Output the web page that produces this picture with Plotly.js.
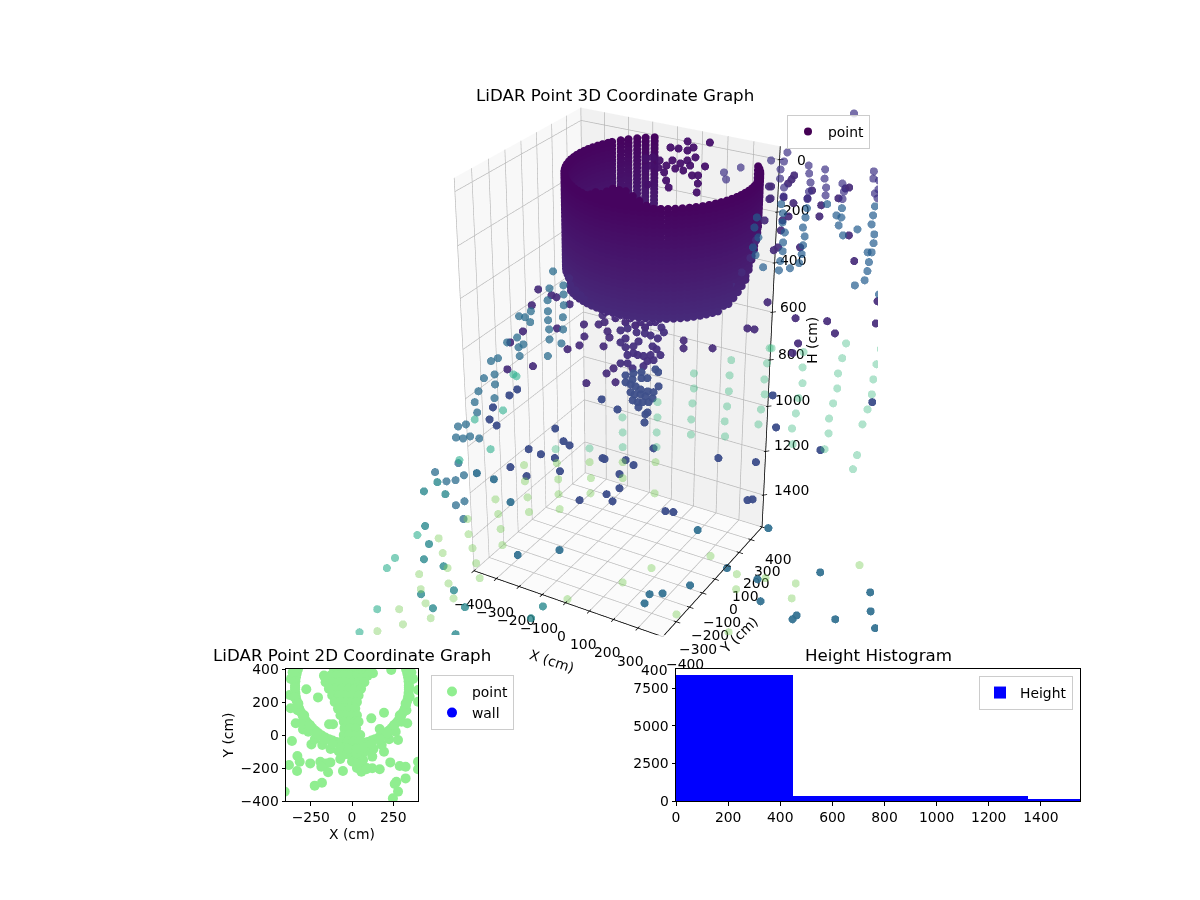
<!DOCTYPE html>
<html><head><meta charset="utf-8">
<script src="https://cdn.plot.ly/plotly-3.0.1.min.js"></script>
<style>
html,body{margin:0;padding:0;background:#fff;width:1200px;height:900px;overflow:hidden}
#axes3d{position:absolute;left:-65px;top:-319px;width:1372px;height:1372px;z-index:1}
#clip{position:absolute;left:352px;top:105px;width:526px;height:530px;overflow:hidden;z-index:2}
#points3d{position:absolute;left:-417px;top:-424px;width:1372px;height:1372px}
#flat{position:absolute;left:0;top:0;width:1200px;height:900px;z-index:3;pointer-events:none}
</style></head><body>
<div id="axes3d"></div>
<div id="clip"><div id="points3d"></div></div>
<div id="flat"></div>
<script>
const xTicks=[-400,-300,-200,-100,0,100,200,300,400];
const yTicks=[-400,-300,-200,-100,0,100,200,300,400];
const hTicks=[0,200,400,600,800,1000,1200,1400];
const ringX=[-190,-217,-241,-264,-283,-302,-310,-320,-328,-335,-340,-343,-345,-345,-343,-340,-335,-328,-320,-310,-299,-286,-272,-256,-240,-222,-203,-183,-162,-140,-118,-95,-72,-48,-24,0,24,48,72,95,118,140,162,183,203,222,240,256,272,286,299,310,320,328,335,340,343,345,345,343,340,335,328,320,310,299,286,272];
const ringY=[578,558,537,512,488,457,441,419,397,373,350,326,302,278,254,230,207,183,161,139,118,97,77,59,42,26,11,-3,-15,-25,-34,-42,-47,-52,-54,-55,-54,-52,-47,-42,-34,-25,-15,-3,11,26,42,59,77,97,118,139,161,183,207,230,254,278,302,326,350,373,397,419,441,462,483,502];
const ringTop=[85,85,85,85,85,85,85,85,85,85,85,85,85,85,85,85,85,85,85,85,85,85,85,85,85,85,85,85,85,85,80,70,60,55,45,30,17,25,40,50,65,80,85,85,85,85,85,85,85,85,85,85,85,85,85,85,85,85,85,85,85,85,85,85,85,85,85,85];
const ringFloor=[470,470,470,470,470,470,470,470,470,470,470,470,470,470,470,470,470,470,470,470,470,470,470,470,470,505,505,505,505,505,505,505,505,505,505,505,505,505,505,505,505,505,505,505,505,505,505,505,505,505,505,505,500,490,480,470,455,430,400,370,340,315,295,280,265,255,250,250];
const ringH=[15,30,45,60,75,85,100,115,130,145,160,175,190,205,220,235,250,265,280,295,310,325,340,355,370,385,400,415,430,445,460,475,490,505];
const wallBearingDeg=30;
const bowlAlong=[-177,-142,-107,-72,-37,-2,33,68,103,138,173,208,243,278,313,348,383,418,447,464,-181,-160,-125,-90,-55,-20,15,50,85,120,155,243,331];
const bowlH=[419,458,478,498,518,538,550,566,566,550,526,510,498,490,470,439,411,368,312,244,391,439,478,498,526,550,566,579,587,566,550,518,466];
const slateTopAlong=[770,556,503,546,536,536,551,551,630,633,639,636,632,686,686,693,693,747,754,751,850,850,870,870,859,870,346,354,402];
const slateTopH=[-224,-84,-55,-51,-22,12,45,78,-36,-7,26,60,88,-22,12,45,74,30,60,88,-15,12,19,52,67,85,-11,15,-29];
const slateLowAlong=[544,551,551,561,557,557,550,547,585,632,629,622,630,626,623,616,700,751,734,751,744,761,809,863,859,856,868,868,850,864,857,854,847,814,908,901,463,456,471,454,464,492];
const slateLowH=[107,141,176,214,252,286,324,360,352,122,157,195,229,263,297,332,107,122,149,157,187,225,202,115,149,183,221,255,290,290,328,363,399,419,415,455,157,195,233,271,301,348];
const slateLeftAlong=[-236,-250,-201,-201,-257,-201,-317,-257,-359,-338,-320,-257,-205,-254,-205,-368,-404,-254,-212,-347,-364,-361,-261,-439,-464,-453,-492,-453,-514,-457,-529,-522,-565,-594,-604,-578,-552,-519,-600,-688,-582,-648,-614,-585,-618,-592];
const slateLeftH=[364,431,419,455,478,498,522,522,542,546,566,558,546,595,595,628,648,636,652,656,668,704,704,713,725,780,796,822,851,880,897,941,992,1001,1049,1053,1044,1053,1161,1201,1215,1242,1237,1332,1350,1413];
const tealAlong=[-682,-734,-655,-738,-728,-751,-678,-644,-771,-729,-605,-647,-350,-303];
const tealH=[1246,1287,1300,1445,1529,1600,1633,1748,1767,1835,1830,1963,1884,1826];
const seaAlong=[-479,-596,-428,-386,-375,-532,-770,-861,-895,-945,-1022];
const seaH=[1100,1148,932,780,788,971,1487,1594,1642,1840,1953];
const blueAlong=[762,960,968,682,667,833,991,405,265,523,539,160,110,91,-234,-393,289,555,-534,-472,-413];
const blueH=[1662,1758,1850,1870,1889,1889,1933,1642,1724,1695,1801,1763,1767,1811,1557,1580,1464,1455,1206,1233,1336];
const indigoAlong=[547,908,565,732,119,-339,-211,-189,-295,-244,-409,-226,-350,-68,-61,17,-6,-6,-54,-155,-32,46,358,497,472,491,166,196,-403,-464,-478,-453,-374,-240,-70,-13];
const indigoH=[868,897,1005,1104,1096,1100,1065,1083,1122,1139,1179,1197,1219,1139,1143,1148,1210,1273,1300,1327,1332,1170,1139,1157,1327,1323,1377,1381,868,919,971,997,843,1010,885,928];
const purpleAlong=[-289,-243,-226,-313,-180,-131,-226,-347,-130,-393,-148,-190,-62,-79,-58,-65,-48,-41,-315,-52,-27,-20,-125,-407,513,446,471,222,222,325,303,282,236,201,159,313,327,583,575,564,507,646,758,771,507,551,632,737,585,680,571,676,551,547,781,540,616,806,898,614,726,898,756,628,610,500,503,490,526];
const purpleH=[435,458,466,498,494,575,591,603,624,648,660,676,664,575,566,538,603,628,746,776,755,813,817,759,486,591,595,640,672,672,514,530,526,530,550,474,466,0,15,30,41,56,48,45,85,81,85,85,103,111,153,153,168,206,225,271,271,324,482,550,562,571,611,652,692,41,88,168,282];
const darkAlong=[165,222,296,242,192,222,249,282,239,259,152,90,161,259,256,82,105,129,99,125,152,172,199,222,182,209,145,82,232];
const darkH=[-102,-124,-120,-102,-98,-91,-66,-33,0,0,19,34,45,30,63,-62,-66,-55,-36,-29,-36,-55,-44,-55,-25,-18,-11,-25,-36];
const funnelUpAlong=[142,151,55,23,-2,84,105,130,16,62,-2,44,16,112,126,140,44,59,80,105,116,94,23,23,-2,41,80];
const funnelUpH=[587,607,607,591,599,611,620,632,632,644,648,664,668,664,676,700,692,700,704,700,721,725,700,734,734,755,746];
const funnelLowAlong=[73,123,133,16,44,41,94,73,16,34,135,117,96,70,52,34,49,70,88,114,42,60,78,99,63,96,88,85];
const funnelLowH=[771,759,771,784,776,801,796,796,813,822,830,855,851,843,830,855,864,864,872,881,889,897,897,897,919,941,949,984];
const mintAlong=[798,788,649,923,912,649,535,777,905,652,778,904,641,767,893,634,756,879,623,758,629,747,868,857,393,261,389,521,528,514,388,262,518,384,258,507,132,377,255,500,132,5,380,255,130,6,130,6,-240,-116];
const mintH=[652,713,688,676,738,751,672,776,801,817,839,864,880,902,928,945,967,992,1010,1031,1078,1100,1126,1188,721,776,784,734,672,801,851,839,864,915,902,928,897,979,971,992,962,962,1044,1036,1027,1027,1091,1091,1100,1096];
const limeAlong=[-358,-237,-116,6,-357,-233,-112,6,-469,-349,-233,-114,-461,-345,-230,-454,-450,6,-207,127,125,340,116,443,553,443,215,420,910,671,659,-576,-690,-564,-678,-553,-773,-663,-542,-663,-771,-647,-756,-860,-740,-850,-952,-577];
const limeH=[1170,1161,1157,1157,1242,1233,1228,1228,1323,1314,1300,1296,1390,1381,1368,1459,1534,1710,1791,1157,1296,1585,1642,1671,1690,1743,1865,1953,1628,1715,1787,1483,1502,1548,1571,1619,1671,1642,1690,1715,1743,1787,1811,1840,1884,1914,1948,1413];
const plan2dX=[-110,-70,-30,10,50,90,-170,-130,-90,-50,-10,30,70,95,-160,-120,-80,-40,0,40,75,-140,-100,-60,-20,20,55,-120,-80,-40,0,40,-105,-70,-35,0,30,-85,-50,-15,20,-70,-35,0,30,-50,-15,20,40,-45,-10,25,-50,-15,20,50,-60,-25,10,45,-30,0,30,70,-50,-10,25,60,0,30,60,30,60,90,
-277,-206,-372,-378,-139,-115,-341,-297,-364,-246,-331,-317,-382,-333,-253,-192,-156,-186,-131,-145,-71,-55,-226,-182,-408,117,194,127,168,335,279,194,238,232,289,325,325,269,259,279,248,168,123,57,87,400,400,400,400,-166,123,67,26,
-370,-350,-330,-300,-265,-225,-180,-130,-80,-30,30,80,130,180,225,265,300,330,350,370,
-360,-345,-325,-290,-255,-215,-170,-120,-70,-20,30,75,120,170,215,255,290,325,345,360];
const plan2dY=[400,400,400,400,400,400,360,360,360,360,360,360,360,360,320,320,320,320,320,320,320,280,280,280,280,280,280,240,240,240,240,240,200,200,200,200,200,160,160,160,160,120,120,120,120,80,80,80,80,40,40,40,0,0,0,0,-40,-40,-40,-40,-80,-80,-80,-80,-120,-120,-120,-120,-160,-160,-160,-200,-200,-200,
277,228,162,242,65,65,71,34,-36,-57,-127,-162,-182,-218,-172,-162,-172,-192,-166,-226,-145,-218,-307,-289,-343,101,135,374,36,71,-30,-101,394,-166,-188,-192,-263,-283,-297,-343,-384,-208,-202,-222,-208,273,202,-162,-208,354,-131,-152,-172,
340,230,150,80,20,-25,-60,-85,-100,-110,-110,-100,-85,-60,-25,20,80,150,230,340,
380,290,190,120,60,10,-25,-55,-75,-85,-85,-75,-55,-25,10,60,120,190,290,380];
const wallPlanX=[5000], wallPlanY=[5000];
const binEdges=[0,450,1350,1550];
const binCounts=[8388,333,133];

const dotSize=4.7;
const bearing=wallBearingDeg*Math.PI/180;
function wallTrace(along,h,color,op){
  return {type:'scatter3d',mode:'markers',showlegend:false,hoverinfo:'skip',
    x:along.map(a=>a*Math.cos(bearing)),y:along.map(a=>a*Math.sin(bearing)),z:h,
    marker:{size:dotSize,color:color,opacity:op,line:{width:0}}};
}
const rx=[],ry=[],rz=[];
ringH.forEach(h=>{ringX.forEach((x,i)=>{ if(h>=ringTop[i]&&h<=ringFloor[i]){rx.push(x);ry.push(ringY[i]);rz.push(h);} });});
const ringTrace={type:'scatter3d',mode:'markers',showlegend:false,hoverinfo:'skip',x:rx,y:ry,z:rz,
  marker:{size:dotSize,color:rz,cmin:85,cmax:505,colorscale:[[0,'#46045f'],[1,'#472a7a']],showscale:false,line:{width:0}}};

// black axis edges (one polyline per axis through its ticks) and tick marks
function lineTrace(x,y,z){return {type:'scatter3d',mode:'lines',showlegend:false,hoverinfo:'skip',x:x,y:y,z:z,line:{color:'#000000',width:1.5}};}
const xEdge=lineTrace(xTicks,xTicks.map(()=>-400),xTicks.map(()=>1550));
const yEdge=lineTrace(yTicks.map(()=>400),yTicks,yTicks.map(()=>1550));
const hEdgeLevels=[-50].concat(hTicks,[1550]);
const hEdge=lineTrace(hEdgeLevels.map(()=>400),hEdgeLevels.map(()=>400),hEdgeLevels);
const tickX=[],tickY=[],tickZ=[];
xTicks.forEach(t=>{tickX.push(t,t,null);tickY.push(-416,-390,null);tickZ.push(1550,1550,null);});
yTicks.forEach(t=>{tickX.push(416,390,null);tickY.push(t,t,null);tickZ.push(1550,1550,null);});
hTicks.forEach(t=>{tickX.push(410,395,null);tickY.push(410,395,null);tickZ.push(t,t,null);});
const tickTrace=lineTrace(tickX,tickY,tickZ);

const pointTraces=[tickTrace,xEdge,yEdge,hEdge,ringTrace,
  wallTrace(darkAlong,darkH,'#45106a',0.95),
  wallTrace(bowlAlong,bowlH,'#46297a',0.97),
  wallTrace(purpleAlong,purpleH,'#472c7a',0.92),
  wallTrace(funnelUpAlong,funnelUpH,'#46307e',0.95),
  wallTrace(funnelLowAlong,funnelLowH,'#3e4f8a',0.95),
  wallTrace(indigoAlong,indigoH,'#3f4f8b',0.97),
  wallTrace(blueAlong,blueH,'#2f6f8f',0.92),
  wallTrace(tealAlong,tealH,'#2a8a8e',0.8),
  wallTrace(slateLeftAlong,slateLeftH,'#2a6c8e',0.75),
  wallTrace(slateTopAlong,slateTopH,'#3e3085',0.7),
  wallTrace(slateLowAlong,slateLowH,'#225b8d',0.7),
  wallTrace(seaAlong,seaH,'#2fb08f',0.6),
  wallTrace(mintAlong,mintH,'#43bd85',0.42),
  wallTrace(limeAlong,limeH,'#7acc59',0.42)];

const eyeDist=7.4, zAspect=1.95;
const dir={x:0.4415,y:-0.7646,z:0.4695};
function eye(k){return {x:dir.x*eyeDist*k,y:dir.y*eyeDist*k,z:dir.z*eyeDist*k};}
const tickFont={family:'DejaVu Sans',size:13.9,color:'#000'};
const anns=[];
const base={showarrow:false,xanchor:'center',yanchor:'middle',font:tickFont};
const hShiftX=[22,19,19,21,21,25,26,28], hShiftY=[0,2,3,5,6,6,6,5];
xTicks.forEach((t,i)=>anns.push(Object.assign({x:t,y:-400,z:1550,text:String(t).replace('-','\u2212'),xshift:-1-7*i/8,yshift:-33},base)));
yTicks.forEach((t,i)=>anns.push(Object.assign({x:400,y:t,z:1550,text:String(t).replace('-','\u2212'),xshift:22-6*i/8,yshift:-27-5*i/8},base)));
hTicks.forEach((t,i)=>anns.push(Object.assign({x:400,y:400,z:t,text:String(t),xshift:hShiftX[i],yshift:hShiftY[i]},base)));
anns.push(Object.assign({x:0,y:-400,z:1550,text:'X (cm)',textangle:18,xshift:-14,yshift:-58},base));
anns.push(Object.assign({x:400,y:0,z:1550,text:'Y (cm)',textangle:-44,xshift:24,yshift:-56},base));
anns.push(Object.assign({x:400,y:400,z:750,text:'H (cm)',textangle:-90,xshift:42,yshift:8},base));
function ax(range,dtick,bg){return {range:range,dtick:dtick,title:{text:''},showticklabels:false,ticks:'',
  showgrid:true,gridcolor:'#b8b8b8',gridwidth:1.5,zeroline:false,showline:false,showbackground:true,backgroundcolor:bg,showspikes:false};}
const axesLayout={width:1372,height:1372,margin:{l:0,r:0,t:0,b:0},paper_bgcolor:'rgba(0,0,0,0)',showlegend:false,
  scene:{domain:{x:[0,1],y:[0,1]},aspectmode:'manual',aspectratio:{x:1,y:1,z:zAspect},
    camera:{eye:eye(1),center:{x:0,y:0,z:0},up:{x:0,y:0,z:1}},
    xaxis:ax([-400,400],100,'#f8f8f8'),yaxis:ax([-400,400],100,'#f1f1f1'),zaxis:ax([1550,-50],200,'#fbfbfb'),annotations:anns}};
const axesTrace=[{type:'scatter3d',mode:'markers',x:[0],y:[0],z:[750],marker:{size:1,opacity:0},hoverinfo:'skip'}];
const hide={visible:false,showgrid:false,showbackground:false,zeroline:false,showticklabels:false,showline:false,title:{text:''}};
const pointsLayout={width:1372,height:1372,margin:{l:0,r:0,t:0,b:0},paper_bgcolor:'rgba(0,0,0,0)',showlegend:false,
  scene:{domain:{x:[0,1],y:[0,1]},aspectmode:'manual',aspectratio:{x:1,y:1,z:zAspect},bgcolor:'rgba(0,0,0,0)',
    camera:{eye:eye(0.25),center:{x:0,y:0,z:0},up:{x:0,y:0,z:1}},
    xaxis:Object.assign({range:[-1600,1600]},hide),yaxis:Object.assign({range:[-1600,1600]},hide),zaxis:Object.assign({range:[3950,-2450]},hide)}};
Plotly.newPlot('axes3d',axesTrace,axesLayout,{displayModeBar:false});
Plotly.newPlot('points3d',pointTraces,pointsLayout,{displayModeBar:false});

const mids=binCounts.map((c,i)=>(binEdges[i]+binEdges[i+1])/2);
const widths=binCounts.map((c,i)=>binEdges[i+1]-binEdges[i]);
const flatTraces=[
 {type:'scatter',mode:'markers',name:'point',x:ringX.concat(plan2dX),y:ringY.concat(plan2dY),marker:{color:'#90ee90',size:10},xaxis:'x',yaxis:'y',legend:'legend'},
 {type:'scatter',mode:'markers',name:'wall',x:wallPlanX,y:wallPlanY,marker:{color:'#0000ff',size:10},xaxis:'x',yaxis:'y',legend:'legend'},
 {type:'bar',name:'Height',x:mids,y:binCounts,width:widths,marker:{color:'#0000ff',line:{width:0}},xaxis:'x2',yaxis:'y2',legend:'legend2'},
 {type:'scatter',mode:'markers',name:'point',x:wallPlanX,y:wallPlanY,marker:{color:'#440154',size:8},xaxis:'x',yaxis:'y',legend:'legend3'}
];
const flatFont={family:'DejaVu Sans',size:13.9,color:'#000'};
function axis2d(extra){return Object.assign({showline:true,mirror:true,linecolor:'#000',linewidth:1,ticks:'outside',ticklen:3.5,tickcolor:'#000',showgrid:false,zeroline:false,tickfont:flatFont},extra);}
function legendBox(x,y,xa){return {x:x,y:y,xanchor:xa,yanchor:'top',bgcolor:'rgba(255,255,255,0.8)',bordercolor:'#cccccc',borderwidth:1,font:flatFont};}
const titleFont={family:'DejaVu Sans',size:16.7,color:'#000'};
function titleAnn(x,y,text){return {xref:'paper',yref:'paper',x:x/1200,y:1-y/900,xanchor:'center',yanchor:'middle',text:text,showarrow:false,font:titleFont};}
const flatLayout={width:1200,height:900,margin:{l:0,r:0,t:0,b:0},paper_bgcolor:'rgba(0,0,0,0)',plot_bgcolor:'#fff',font:flatFont,
 xaxis:axis2d({domain:[286/1200,418/1200],range:[-400,400],tickvals:[-250,0,250],ticktext:['\u2212250','0','250'],title:{text:'X (cm)',font:flatFont,standoff:5},anchor:'y'}),
 yaxis:axis2d({domain:[99/900,231/900],range:[-400,400],tickvals:[-400,-200,0,200,400],ticktext:['\u2212400','\u2212200','0','200','400'],title:{text:'Y (cm)',font:flatFont,standoff:3},anchor:'x'}),
 xaxis2:axis2d({domain:[676/1200,1080/1200],range:[0,1550],tickvals:[0,200,400,600,800,1000,1200,1400],anchor:'y2'}),
 yaxis2:axis2d({domain:[99/900,231/900],range:[0,8765],tickvals:[0,2500,5000,7500],tickformat:'d',anchor:'x2'}),
 bargap:0,showlegend:true,
 legend:legendBox(431/1200,1-675/900,'left'),
 legend2:legendBox(1073/1200,1-676/900,'right'),
 legend3:legendBox(787/1200,1-115/900,'left'),
 annotations:[titleAnn(615,95,'LiDAR Point 3D Coordinate Graph'),titleAnn(352,655,'LiDAR Point 2D Coordinate Graph'),titleAnn(878,655,'Height Histogram')]};
Plotly.newPlot('flat',flatTraces,flatLayout,{displayModeBar:false});
</script></body></html>
